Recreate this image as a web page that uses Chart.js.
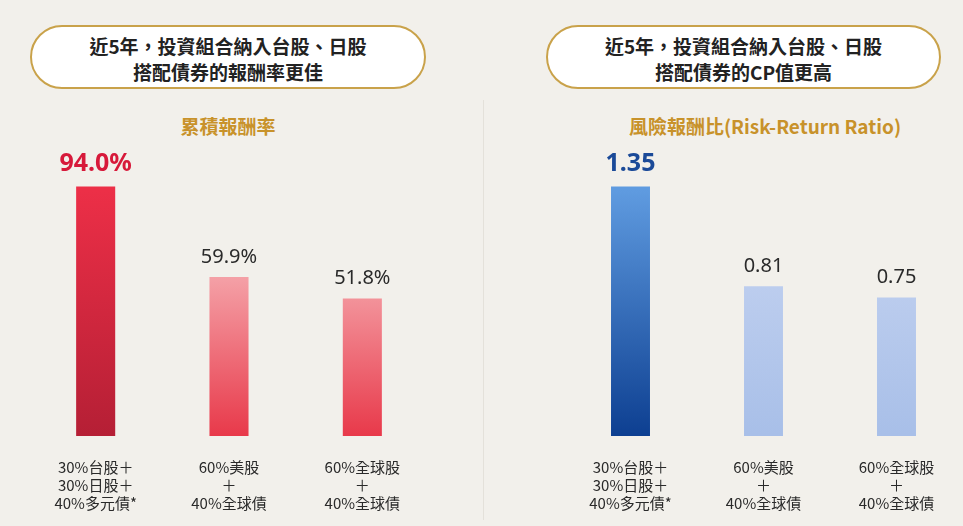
<!DOCTYPE html>
<html>
<head>
<meta charset="utf-8">
<script src="https://cdn.jsdelivr.net/npm/chart.js@4"></script>
<style>
  body { margin:0; width:963px; height:526px; background:#f2f0eb; position:relative; overflow:hidden; font-family:"Noto Sans CJK TC","Noto Sans",sans-serif; }
  .box { position:absolute; top:25px; height:64px; border:2px solid #c9a24a; border-radius:34px; background:#fff;
         text-align:center; font-weight:bold; font-size:19px; line-height:26px; color:#222; padding-top:6px; box-sizing:border-box; }
  .sub { position:absolute; top:112px; font-weight:bold; font-size:19px; color:#c8922a; text-align:center; }
  .wrap { position:absolute; top:140px; height:386px; }
  .divider { position:absolute; left:483px; top:100px; width:1px; height:420px; background:#e4e1da; }
</style>
</head>
<body>
<div class="divider"></div>
<div class="box" style="left:30px;width:396px">近5年，投資組合納入台股、日股<br>搭配債券的報酬率更佳</div>
<div class="box" style="left:546px;width:395px">近5年，投資組合納入台股、日股<br>搭配債券的CP值更高</div>
<div class="sub" style="left:130px;width:196px">累積報酬率</div>
<div class="sub" style="left:565px;width:400px">風險報酬比(Risk-Return Ratio)</div>
<div class="wrap" style="left:0;width:480px"><canvas id="graficoRetorno"></canvas></div>
<div class="wrap" style="left:485px;width:478px"><canvas id="graficoRisco"></canvas></div>
<script>
const categorias = [
  ['30%台股＋', '30%日股＋', '40%多元債*'],
  ['60%美股', '＋', '40%全球債'],
  ['60%全球股', '＋', '40%全球債']
]
const retornoAcumulado = [94.0, 59.9, 51.8]
const rotulosRetorno = ['94.0%', '59.9%', '51.8%']
const razaoRisco = [1.35, 0.81, 0.75]
const rotulosRisco = ['1.35', '0.81', '0.75']

function gradiente(ctx, area, de, para) {
  let g = ctx.createLinearGradient(0, area.bottom, 0, area.top + 40)
  g.addColorStop(0, de)
  g.addColorStop(1, para)
  return g
}

const rotulosPlugin = {
  id: 'rotulos',
  afterDatasetsDraw(chart, args, opts) {
    const ctx = chart.ctx
    chart.getDatasetMeta(0).data.forEach((bar, i) => {
      ctx.save()
      ctx.textAlign = 'center'
      ctx.textBaseline = 'bottom'
      if (i === 0) {
        ctx.font = 'bold 25px "Noto Sans", sans-serif'
        ctx.fillStyle = opts.cor
      } else {
        ctx.font = '20px "Noto Sans", sans-serif'
        ctx.fillStyle = '#2a2a2a'
      }
      ctx.fillText(opts.textos[i], bar.x, bar.y - 10)
      ctx.restore()
    })
  }
}

function criarGrafico(id, dados, textos, maximo, cores, corRotulo, padEsq, padDir) {
  return new Chart(document.querySelector(id), {
    type: 'bar',
    data: {
      labels: categorias,
      datasets: [{
        data: dados,
        backgroundColor: (c) => {
          const area = c.chart.chartArea
          if (!area) return cores[0][1]
          const par = c.dataIndex === 0 ? cores[0] : cores[1]
          return gradiente(c.chart.ctx, area, par[0], par[1])
        },
        categoryPercentage: 1,
        barPercentage: 0.293
      }]
    },
    plugins: [rotulosPlugin],
    options: {
      responsive: false,
      animation: false,
      layout: { padding: { left: padEsq, right: padDir, top: 10, bottom: 0 } },
      plugins: { legend: { display: false }, tooltip: { enabled: false }, rotulos: { textos: textos, cor: corRotulo } },
      scales: {
        y: { display: false, min: 0, max: maximo },
        x: {
          grid: { display: false }, border: { display: false },
          ticks: { color: '#2a2a2a', font: { size: 15, family: '"Noto Sans CJK TC", sans-serif' }, padding: 14, maxRotation: 0 }
        }
      }
    }
  })
}

document.querySelector('#graficoRetorno').width = 480
document.querySelector('#graficoRetorno').height = 386
document.querySelector('#graficoRisco').width = 478
document.querySelector('#graficoRisco').height = 386

criarGrafico('#graficoRetorno', retornoAcumulado, rotulosRetorno, 107.8,
  [['#b51f35', '#ec2f47'], ['#e8394a', '#fbd9d9']], '#d7193a', 29, 51)
criarGrafico('#graficoRisco', razaoRisco, rotulosRisco, 1.548,
  [['#0d3f91', '#5f9be0'], ['#a8bfe8', '#c9d6f2']], '#1b4a98', 79, 0)
</script>
</body>
</html>
